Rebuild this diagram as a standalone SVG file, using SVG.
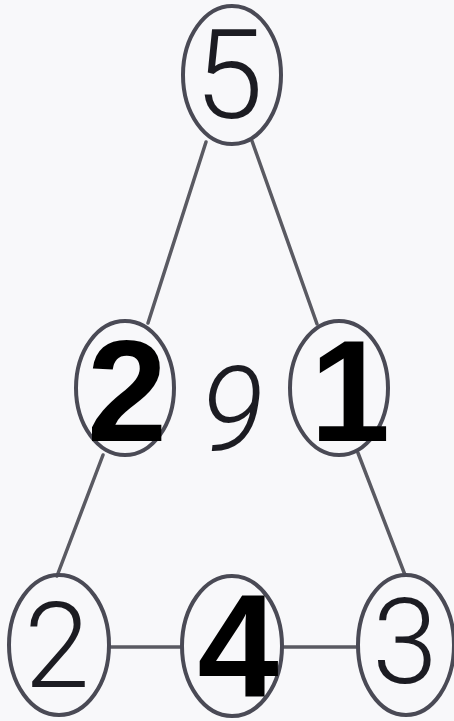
<svg xmlns="http://www.w3.org/2000/svg" width="454" height="721" viewBox="0 0 454 721">
<style>
.node ellipse{fill:none;stroke:#4a4a55;stroke-width:4}
.edge{stroke:#5a5a62;stroke-width:3.5;stroke-linecap:round}
.hand{font-family:Roboto,Lato,"Liberation Sans",sans-serif;font-weight:300;fill:#1c1c22;text-anchor:middle}
.bold{font-family:"Liberation Sans",Arial,sans-serif;font-weight:bold;fill:#000;text-anchor:middle}
</style>
<rect width="454" height="721" fill="#f8f8fa"/>
<g id="connectors">
<line class="edge" x1="206" y1="142" x2="148" y2="323"/>
<line class="edge" x1="252" y1="141" x2="317" y2="324"/>
<line class="edge" x1="103" y1="455" x2="57" y2="576"/>
<line class="edge" x1="358" y1="453" x2="405" y2="575"/>
<line class="edge" x1="110" y1="647" x2="182" y2="647"/>
<line class="edge" x1="282" y1="647" x2="358" y2="647"/>
</g>
<g id="node-top" class="node"><ellipse cx="232" cy="75" rx="49" ry="69"/><text class="hand" x="229" y="118" font-size="124">5</text></g>
<g id="node-left" class="node"><ellipse cx="125" cy="388" rx="49" ry="67"/><text class="bold" x="127" y="441" font-size="144">2</text></g>
<g id="node-right" class="node"><ellipse cx="339" cy="388" rx="49" ry="67"/><text class="bold" x="350" y="441" font-size="144">1</text></g>
<g id="center-label"><text class="hand" x="232" y="450" font-size="118" font-style="italic">9</text></g>
<g id="node-bl" class="node"><ellipse cx="59" cy="645" rx="50" ry="70"/><text class="hand" x="57" y="687" font-size="118">2</text></g>
<g id="node-bm" class="node"><ellipse cx="232" cy="646" rx="50" ry="70"/><text class="bold" x="238" y="697" font-size="146">4</text></g>
<g id="node-br" class="node"><ellipse cx="406" cy="645" rx="48" ry="70"/><text class="hand" x="405" y="683" font-size="118">3</text></g>
</svg>
